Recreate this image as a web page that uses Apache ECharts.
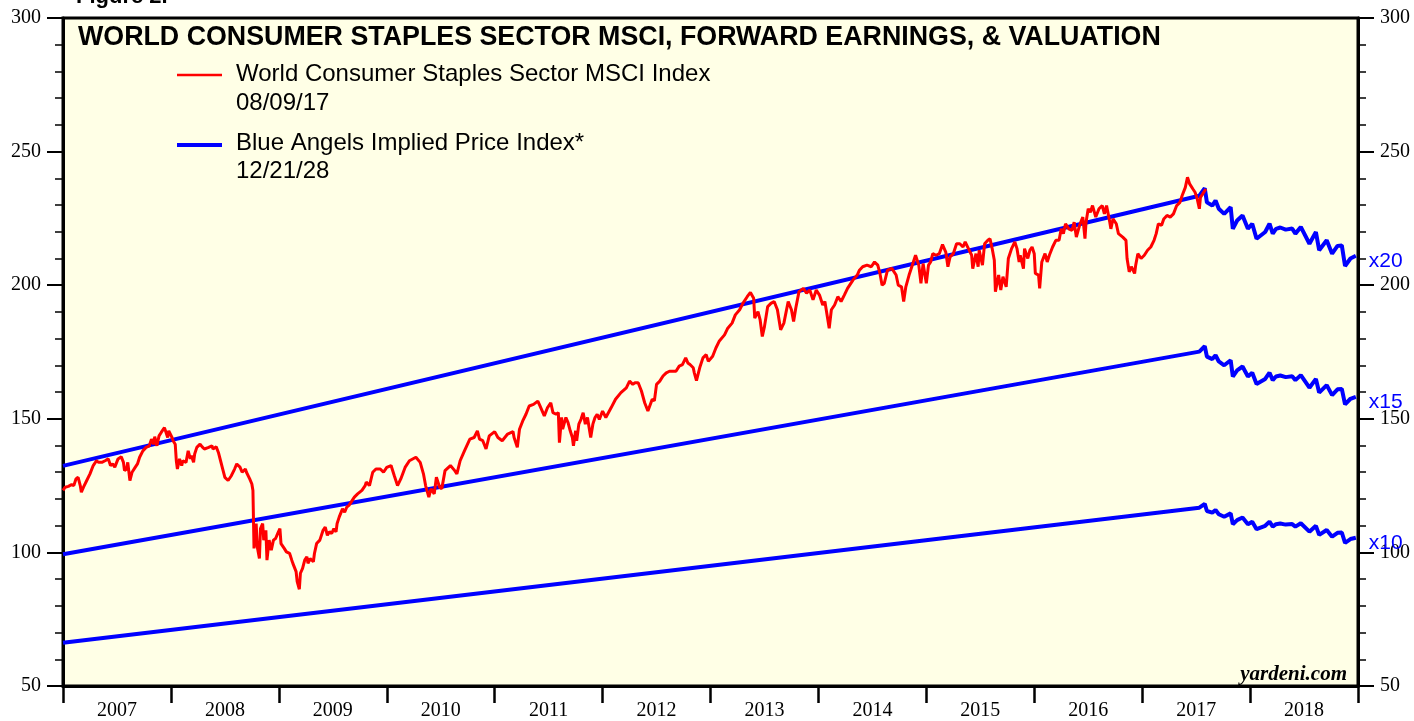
<!DOCTYPE html>
<html>
<head>
<meta charset="utf-8">
<script src="https://cdn.jsdelivr.net/npm/echarts@6/dist/echarts.min.js"></script>
<style>
  html, body { margin: 0; padding: 0; background: #fff; }
  #chart { width: 1414px; height: 721px; }
</style>
</head>
<body>
<div id="chart"></div>
<script>
// year labels under the x axis
var yearLabels = ["2007", "2008", "2009", "2010", "2011", "2012", "2013", "2014", "2015", "2016", "2017", "2018"];

// World Consumer Staples Sector MSCI index (weekly-ish)
var msciYears = [
  2007.00, 2007.02, 2007.05, 2007.08, 2007.10, 2007.12, 2007.14, 2007.16, 2007.17, 2007.19,
  2007.22, 2007.25, 2007.28, 2007.31, 2007.33, 2007.36, 2007.39, 2007.42, 2007.44, 2007.46,
  2007.48, 2007.51, 2007.54, 2007.56, 2007.57, 2007.59, 2007.60, 2007.62, 2007.64, 2007.67,
  2007.69, 2007.71, 2007.74, 2007.77, 2007.80, 2007.82, 2007.84, 2007.85, 2007.87, 2007.89,
  2007.91, 2007.94, 2007.95, 2007.97, 2007.98,
  2008.01, 2008.02, 2008.04, 2008.05, 2008.06, 2008.08, 2008.10, 2008.11, 2008.14, 2008.16,
  2008.18, 2008.19, 2008.21, 2008.22, 2008.24, 2008.27, 2008.29, 2008.31, 2008.35, 2008.38,
  2008.39, 2008.42, 2008.44, 2008.46, 2008.48, 2008.50, 2008.53, 2008.56, 2008.59, 2008.61,
  2008.64, 2008.66, 2008.69, 2008.70, 2008.73, 2008.75, 2008.76, 2008.77, 2008.79, 2008.80,
  2008.82, 2008.83, 2008.85, 2008.86, 2008.88, 2008.89, 2008.91, 2008.93, 2008.95, 2008.97,
  2008.99,
  2009.01, 2009.02, 2009.05, 2009.07, 2009.10, 2009.12, 2009.13, 2009.16, 2009.17, 2009.19,
  2009.20, 2009.22, 2009.24, 2009.26, 2009.27, 2009.29, 2009.32, 2009.33, 2009.35, 2009.38,
  2009.41, 2009.43, 2009.45, 2009.47, 2009.49, 2009.51, 2009.53, 2009.54, 2009.56, 2009.59,
  2009.61, 2009.63, 2009.65, 2009.70, 2009.73, 2009.77, 2009.80, 2009.81, 2009.84, 2009.87,
  2009.90, 2009.94, 2009.97,
  2010.00, 2010.04, 2010.07, 2010.10, 2010.13, 2010.17, 2010.21, 2010.27, 2010.31, 2010.34,
  2010.36, 2010.39, 2010.41, 2010.44, 2010.46, 2010.49, 2010.51, 2010.54, 2010.59, 2010.63,
  2010.65, 2010.68, 2010.72, 2010.77, 2010.81, 2010.84, 2010.86, 2010.89, 2010.92, 2010.95,
  2011.00, 2011.03, 2011.07, 2011.12, 2011.17, 2011.18, 2011.21, 2011.23, 2011.26, 2011.29,
  2011.32, 2011.36, 2011.40, 2011.42, 2011.46, 2011.49, 2011.52, 2011.54, 2011.57, 2011.59,
  2011.60, 2011.62, 2011.63, 2011.66, 2011.68, 2011.70, 2011.72, 2011.73, 2011.75, 2011.76,
  2011.78, 2011.80, 2011.82, 2011.84, 2011.86, 2011.89, 2011.91, 2011.93, 2011.95, 2011.97,
  2012.00, 2012.03, 2012.08, 2012.12, 2012.17, 2012.22, 2012.25, 2012.28, 2012.30, 2012.33,
  2012.36, 2012.39, 2012.42, 2012.46, 2012.48, 2012.50, 2012.53, 2012.56, 2012.59, 2012.62,
  2012.65, 2012.68, 2012.71, 2012.74, 2012.77, 2012.79, 2012.81, 2012.84, 2012.85, 2012.87,
  2012.90, 2012.93, 2012.96, 2012.98,
  2013.02, 2013.05, 2013.08, 2013.13, 2013.16, 2013.20, 2013.23, 2013.27, 2013.30, 2013.34,
  2013.37, 2013.40, 2013.41, 2013.44, 2013.46, 2013.48, 2013.50, 2013.53, 2013.56, 2013.59,
  2013.62, 2013.65, 2013.68, 2013.72, 2013.75, 2013.77, 2013.79, 2013.82, 2013.86, 2013.89,
  2013.92, 2013.95, 2013.98,
  2014.01, 2014.04, 2014.06, 2014.10, 2014.12, 2014.15, 2014.18, 2014.21, 2014.24, 2014.27,
  2014.32, 2014.36, 2014.38, 2014.41, 2014.45, 2014.49, 2014.52, 2014.55, 2014.57, 2014.59,
  2014.61, 2014.64, 2014.68, 2014.72, 2014.74, 2014.77, 2014.79, 2014.81, 2014.84, 2014.87,
  2014.90, 2014.93, 2014.95, 2014.97,
  2015.00, 2015.02, 2015.04, 2015.06, 2015.09, 2015.12, 2015.15, 2015.18, 2015.20, 2015.22,
  2015.25, 2015.28, 2015.31, 2015.34, 2015.36, 2015.37, 2015.39, 2015.42, 2015.43, 2015.46,
  2015.48, 2015.49, 2015.52, 2015.54, 2015.57, 2015.59, 2015.61, 2015.63, 2015.64, 2015.67,
  2015.69, 2015.71, 2015.74, 2015.76, 2015.79, 2015.82, 2015.84, 2015.86, 2015.87, 2015.90,
  2015.91, 2015.94, 2015.96, 2015.98,
  2016.00, 2016.01, 2016.04, 2016.05, 2016.07, 2016.10, 2016.12, 2016.14, 2016.17, 2016.20,
  2016.23, 2016.25, 2016.27, 2016.29, 2016.32, 2016.35, 2016.37, 2016.39, 2016.42, 2016.45,
  2016.47, 2016.48, 2016.50, 2016.52, 2016.54, 2016.57, 2016.60, 2016.63, 2016.65, 2016.67,
  2016.70, 2016.71, 2016.73, 2016.76, 2016.78, 2016.82, 2016.85, 2016.86, 2016.88, 2016.90,
  2016.93, 2016.94, 2016.96, 2016.99,
  2017.02, 2017.05, 2017.08, 2017.11, 2017.13, 2017.15, 2017.18, 2017.20, 2017.23, 2017.26,
  2017.29, 2017.32, 2017.35, 2017.37, 2017.40, 2017.42, 2017.44, 2017.47, 2017.49, 2017.51,
  2017.53, 2017.54, 2017.56, 2017.59
];
var msciValues = [
  123.2, 124.4, 124.7, 125.4, 125.0, 127.5, 128.1, 125.0, 122.5, 124.4,
  126.9, 129.4, 132.5, 134.3, 133.7, 133.7, 134.3, 135.0, 132.5, 133.1,
  131.9, 135.0, 135.8, 133.7, 130.6, 131.2, 133.7, 126.9, 130.0, 131.9,
  133.1, 135.6, 138.0, 139.3, 139.9, 142.4, 140.5, 143.3, 139.9, 143.6,
  144.9, 146.7, 146.1, 143.0, 145.5,
  143.0, 141.8, 140.5, 134.3, 131.2, 135.0, 132.5, 134.3, 133.7, 138.0,
  135.0, 136.2, 133.7, 136.8, 139.3, 140.5, 139.5, 138.7, 139.3, 139.9,
  138.7, 139.5, 137.4, 134.3, 131.2, 128.1, 126.9, 128.7, 131.2, 133.1,
  131.9, 130.0, 131.2, 130.0, 127.5, 125.6, 123.2, 101.5, 110.8, 102.1,
  97.7, 108.9, 110.8, 104.6, 108.3, 97.1, 104.6, 100.8, 104.6, 105.2,
  107.1,
  108.9, 103.3, 101.5, 100.2, 99.6, 97.1, 95.9, 92.8, 89.1, 86.2,
  92.2, 94.0, 97.1, 98.4, 95.9, 97.7, 96.5, 99.6, 103.3, 104.6,
  108.3, 109.5, 106.4, 107.7, 107.1, 108.9, 107.7, 110.8, 113.3, 116.3,
  115.1, 117.0, 117.6, 120.7, 121.9, 123.2, 125.0, 126.3, 125.0, 130.0,
  131.2, 131.2, 130.0,
  131.8, 132.5, 128.7, 125.0, 127.5, 131.8, 134.3, 135.6, 133.7, 129.4,
  125.0, 120.7, 123.8, 121.9, 128.1, 124.4, 123.8, 130.6, 132.5, 130.6,
  129.4, 134.3, 138.0, 142.4, 143.0, 145.5, 142.4, 141.8, 138.7, 143.6,
  145.2, 143.0, 141.8, 144.3, 145.2, 143.0, 139.3, 146.1, 149.2, 151.7,
  154.8, 155.4, 156.6, 154.8, 151.1, 154.2, 156.0, 152.3, 151.7, 152.3,
  141.1, 150.5, 146.1, 150.5, 148.6, 145.5, 143.0, 139.9, 145.5, 141.8,
  148.0, 149.8, 152.3, 148.0, 150.5, 143.0, 148.0, 150.5, 151.7, 149.8,
  152.9, 150.5, 154.2, 157.3, 159.8, 161.6, 164.1, 162.9, 163.5, 163.5,
  160.4, 156.0, 152.9, 157.3, 156.7, 162.9, 164.1, 166.0, 167.2, 167.8,
  167.8, 167.8, 169.7, 170.3, 172.8, 170.9, 170.3, 169.1, 167.2, 164.3,
  169.1, 172.8, 174.0, 171.5,
  173.4, 176.5, 179.0, 181.4, 183.9, 185.8, 188.9, 190.8, 193.2, 195.7,
  197.3, 195.1, 187.7, 190.1, 187.0, 180.8, 184.5, 192.0, 193.2, 193.9,
  190.8, 183.3, 185.8, 193.9, 190.8, 186.4, 191.4, 197.6, 198.8, 197.0,
  198.2, 194.5, 198.2,
  196.3, 192.6, 193.9, 183.9, 190.8, 192.6, 195.7, 193.9, 196.3, 198.8,
  201.9, 203.8, 205.6, 206.9, 207.5, 206.9, 208.7, 207.5, 204.4, 200.0,
  200.7, 205.6, 206.3, 203.8, 200.0, 199.4, 193.9, 199.4, 203.8, 207.5,
  211.2, 207.5, 200.7, 208.1,
  200.7, 207.5, 208.7, 211.8, 211.2, 211.8, 215.2, 212.4, 206.9, 210.6,
  211.8, 215.5, 215.5, 214.3, 216.2, 216.8, 213.7, 211.2, 206.2, 211.8,
  206.9, 213.1, 207.5, 215.5, 216.8, 217.4, 213.7, 209.3, 197.6, 203.8,
  198.2, 203.2, 199.4, 210.0, 213.7, 216.2, 213.7, 208.7, 211.2, 206.2,
  213.7, 210.0, 213.1, 214.3,
  211.8, 204.4, 203.8, 198.8, 208.7, 211.8, 208.7, 211.2, 214.3, 216.8,
  216.8, 221.1, 219.3, 223.0, 221.1, 220.5, 223.6, 218.0, 222.4, 225.5,
  217.4, 223.6, 228.6, 227.3, 229.8, 225.5, 228.6, 229.8, 226.7, 229.8,
  223.6, 221.1, 224.8, 223.0, 219.3, 218.0, 216.8, 210.0, 205.0, 206.9,
  204.4, 207.5, 211.8, 210.0,
  211.2, 213.1, 214.3, 216.8, 219.3, 223.0, 222.4, 224.8, 226.1, 225.5,
  226.7, 229.8, 231.0, 233.5, 236.6, 240.4, 237.9, 236.0, 234.8, 232.3,
  228.6, 232.9, 234.1, 236.0
];

// forward earnings behind the Blue Angels lines (straight segment, then weekly from Aug 2017)
var feYears = [
  2007.00, 2017.53, 2017.58, 2017.60, 2017.65, 2017.68, 2017.71, 2017.76, 2017.82, 2017.84,
  2017.88, 2017.93, 2017.98, 2018.02, 2018.06, 2018.14, 2018.18, 2018.21, 2018.24, 2018.28,
  2018.33, 2018.39, 2018.42, 2018.47, 2018.55, 2018.61, 2018.64, 2018.71, 2018.76, 2018.81,
  2018.85, 2018.88, 2018.93, 2018.98
];
var feValues = [
  6.62, 11.675, 11.815, 11.55, 11.49, 11.585, 11.43, 11.335, 11.46, 11.055,
  11.21, 11.305, 11.055, 11.15, 10.87, 10.995, 11.15, 10.965, 11.055, 11.08,
  11.04, 11.06, 10.965, 11.09, 10.775, 10.995, 10.655, 10.84, 10.59, 10.735,
  10.745, 10.36, 10.50, 10.55
];
var multiples = [20, 15, 10];

var yTicks = [50, 100, 150, 200, 250, 300];

var SANS = "'Liberation Sans', Arial, Helvetica, sans-serif";
var SERIF = "'Liberation Serif', 'Times New Roman', serif";

var myChart = echarts.init(document.getElementById("chart"));

var msciData = [];
for (var i = 0; i < msciYears.length; i++) {
  msciData.push([msciYears[i], msciValues[i]]);
}

var blueSeries = multiples.map(function (m) {
  var d = [];
  for (var j = 0; j < feYears.length; j++) {
    d.push([feYears[j], +(feValues[j] * m).toFixed(2)]);
  }
  return {
    name: "x" + m,
    type: "line",
    data: d,
    showSymbol: false,
    symbol: "none",
    lineStyle: { color: "#0000ff", width: 4 },
    z: 2,
    endLabel: {
      show: true,
      formatter: "x" + m,
      color: "#0000ff",
      fontFamily: SANS,
      fontSize: 21,
      distance: 13,
      offset: [0, 5]
    }
  };
});

function yAxisCfg(pos) {
  return {
    type: "value",
    position: pos,
    min: yTicks[0],
    max: yTicks[yTicks.length - 1],
    interval: 50,
    axisLine: { show: true, lineStyle: { color: "#000", width: 3 } },
    axisTick: { show: true, length: 16, lineStyle: { color: "#000", width: 2 } },
    minorTick: { show: true, splitNumber: 5, length: 8, lineStyle: { color: "#000", width: 1.5 } },
    axisLabel: { color: "#000", fontFamily: SERIF, fontSize: 20, margin: 22 },
    splitLine: { show: false },
    minorSplitLine: { show: false }
  };
}

var option = {
  animation: false,
  backgroundColor: "#ffffff",
  grid: {
    left: 63, right: 56, top: 18, bottom: 31,
    show: true,
    backgroundColor: "#ffffe6",
    borderColor: "#000",
    borderWidth: 3
  },
  xAxis: [
    {
      type: "value",
      min: 2007,
      max: 2019,
      interval: 1,
      position: "bottom",
      axisLine: { show: true, lineStyle: { color: "#000", width: 3 } },
      axisTick: { show: true, length: 17, lineStyle: { color: "#000", width: 2.5 } },
      axisLabel: { show: false },
      splitLine: { show: false }
    },
    {
      type: "category",
      data: yearLabels,
      position: "bottom",
      boundaryGap: true,
      axisLine: { show: false },
      axisTick: { show: false },
      axisLabel: { color: "#000", fontFamily: SERIF, fontSize: 20, margin: 15 },
      splitLine: { show: false }
    }
  ],
  yAxis: [yAxisCfg("left"), yAxisCfg("right")],
  series: blueSeries.concat([
    {
      name: "World Consumer Staples Sector MSCI Index",
      type: "line",
      data: msciData,
      showSymbol: false,
      symbol: "none",
      lineStyle: { color: "#ff0000", width: 3 },
      z: 3
    }
  ]),
  graphic: [
    {
      type: "text", left: 76, top: -14,
      style: { text: "Figure 2.", font: "bold 22px " + SANS, fill: "#000" }
    },
    {
      type: "text", left: 78, top: 24,
      style: { text: "WORLD CONSUMER STAPLES SECTOR MSCI, FORWARD EARNINGS, & VALUATION", font: "bold 26.8px " + SANS, fill: "#000" }
    },
    {
      type: "line", shape: { x1: 177, y1: 75, x2: 222, y2: 75 },
      style: { stroke: "#ff0000", lineWidth: 2.5 }
    },
    {
      type: "text", left: 236, top: 62,
      style: { text: "World Consumer Staples Sector MSCI Index", font: "24px " + SANS, fill: "#000" }
    },
    {
      type: "text", left: 236, top: 91,
      style: { text: "08/09/17", font: "24px " + SANS, fill: "#000" }
    },
    {
      type: "line", shape: { x1: 177, y1: 145, x2: 222, y2: 145 },
      style: { stroke: "#0000ff", lineWidth: 4 }
    },
    {
      type: "text", left: 236, top: 131,
      style: { text: "Blue Angels Implied Price Index*", font: "24px " + SANS, fill: "#000" }
    },
    {
      type: "text", left: 236, top: 159,
      style: { text: "12/21/28", font: "24px " + SANS, fill: "#000" }
    },
    {
      type: "text", right: 67, top: 664,
      style: { text: "yardeni.com", font: "italic bold 21px " + SERIF, fill: "#000" }
    }
  ]
};

myChart.setOption(option);
window.addEventListener("resize", function () {
  myChart.resize();
});
</script>
</body>
</html>
